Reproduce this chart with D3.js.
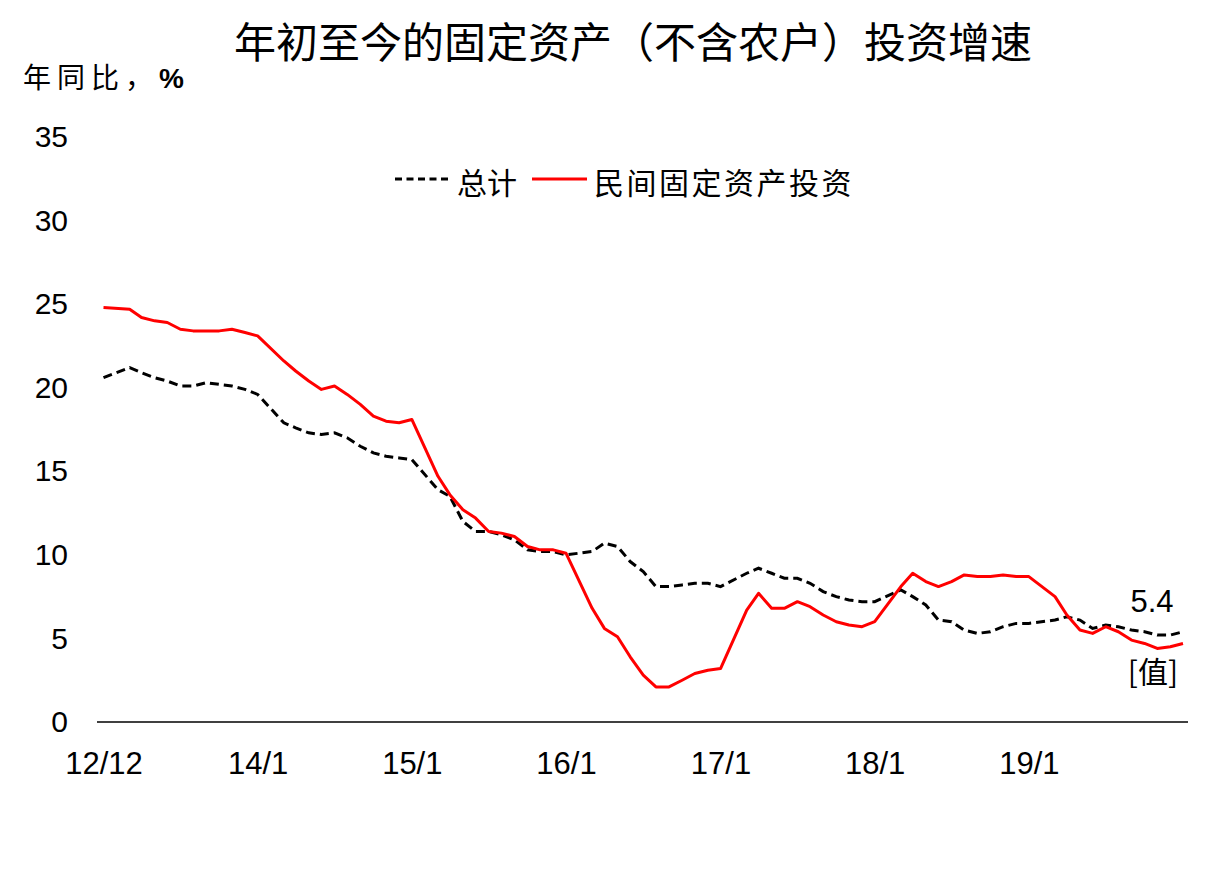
<!DOCTYPE html>
<html>
<head>
<meta charset="utf-8">
<script src="https://cdn.jsdelivr.net/npm/d3@7"></script>
<style>
  body { margin: 0; background: #fff; }
  text { fill: #000; }
</style>
</head>
<body>
<svg></svg>
<script>
// months shown (Jan is folded into Jan-Feb, so no January points)
const months = [
  "2012-12",
  "2013-02", "2013-03", "2013-04", "2013-05", "2013-06", "2013-07", "2013-08", "2013-09", "2013-10", "2013-11", "2013-12",
  "2014-02", "2014-03", "2014-04", "2014-05", "2014-06", "2014-07", "2014-08", "2014-09", "2014-10", "2014-11", "2014-12",
  "2015-02", "2015-03", "2015-04", "2015-05", "2015-06", "2015-07", "2015-08", "2015-09", "2015-10", "2015-11", "2015-12",
  "2016-02", "2016-03", "2016-04", "2016-05", "2016-06", "2016-07", "2016-08", "2016-09", "2016-10", "2016-11", "2016-12",
  "2017-02", "2017-03", "2017-04", "2017-05", "2017-06", "2017-07", "2017-08", "2017-09", "2017-10", "2017-11", "2017-12",
  "2018-02", "2018-03", "2018-04", "2018-05", "2018-06", "2018-07", "2018-08", "2018-09", "2018-10", "2018-11", "2018-12",
  "2019-02", "2019-03", "2019-04", "2019-05", "2019-06", "2019-07", "2019-08", "2019-09", "2019-10", "2019-11", "2019-12",
];

// 总计
const totalValues = [
  20.6,
  21.2, 20.9, 20.6, 20.4, 20.1, 20.1, 20.3, 20.2, 20.1, 19.9, 19.6,
  17.9, 17.6, 17.3, 17.2, 17.3, 17.0, 16.5, 16.1, 15.9, 15.8, 15.7,
  13.9, 13.5, 12.0, 11.4, 11.4, 11.2, 10.9, 10.3, 10.2, 10.2, 10.0,
  10.2, 10.7, 10.5, 9.6, 9.0, 8.1, 8.1, 8.2, 8.3, 8.3, 8.1,
  8.9, 9.2, 8.9, 8.6, 8.6, 8.3, 7.8, 7.5, 7.3, 7.2, 7.2,
  7.9, 7.5, 7.0, 6.1, 6.0, 5.5, 5.3, 5.4, 5.7, 5.9, 5.9,
  6.1, 6.3, 6.1, 5.6, 5.8, 5.7, 5.5, 5.4, 5.2, 5.2, 5.4,
];

// 民间固定资产投资
const privateValues = [
  24.8,
  24.7, 24.2, 24.0, 23.9, 23.5, 23.4, 23.4, 23.4, 23.5, 23.3, 23.1,
  21.6, 21.0, 20.4, 19.9, 20.1, 19.6, 19.0, 18.3, 18.0, 17.9, 18.1,
  14.7, 13.6, 12.7, 12.2, 11.4, 11.3, 11.1, 10.5, 10.3, 10.3, 10.1,
  6.8, 5.6, 5.1, 3.9, 2.8, 2.1, 2.1, 2.5, 2.9, 3.1, 3.2,
  6.7, 7.7, 6.8, 6.8, 7.2, 6.9, 6.4, 6.0, 5.8, 5.7, 6.0,
  8.1, 8.9, 8.4, 8.1, 8.4, 8.8, 8.7, 8.7, 8.8, 8.7, 8.7,
  7.5, 6.4, 5.5, 5.3, 5.7, 5.4, 4.9, 4.7, 4.4, 4.5, 4.7,
];

const tickMonths = ["2012-12", "2013-12", "2014-12", "2015-12", "2016-12", "2017-12", "2018-12"];
const tickLabels = ["12/12", "14/1", "15/1", "16/1", "17/1", "18/1", "19/1"];
const yTicks = [0, 5, 10, 15, 20, 25, 30, 35];

const title = "年初至今的固定资产（不含农户）投资增速";
const yTitle = "年同比，";
const seriesNames = ["总计", "民间固定资产投资"];

const width = 1229;
const height = 869;
const cjk = "'Noto Sans CJK SC', sans-serif";
const latin = "'Liberation Sans', Arial, sans-serif";
const svg = d3.select("svg").attr("width", width).attr("height", height);

const parseMonth = d3.timeParse("%Y-%m");
const dates = months.map(parseMonth);

const xScale = d3
  .scaleTime()
  .domain([dates[0], dates[dates.length - 1]])
  .range([103.5, 1183]);

const yScale = d3.scaleLinear().domain([0, 35]).range([722, 137]);

// title
svg
  .append("text")
  .attr("x", 633)
  .attr("y", 58)
  .attr("text-anchor", "middle")
  .style("font-family", cjk)
  .style("font-size", "42px")
  .text(title);

// y axis title
const yt = svg
  .append("text")
  .attr("x", 23)
  .attr("y", 88)
  .style("font-family", cjk)
  .style("font-size", "28px")
  .style("letter-spacing", "6px");
yt.append("tspan").text(yTitle);
yt.append("tspan")
  .style("font-family", latin)
  .style("font-weight", "bold")
  .style("letter-spacing", "0px")
  .text("%");

// y axis: labels only
const yAxis = d3.axisLeft(yScale).tickValues(yTicks).tickSize(0).tickPadding(0);
const yG = svg.append("g").attr("transform", "translate(68,0)").call(yAxis);
yG.select(".domain").remove();
yG.selectAll("text")
  .style("font-family", latin)
  .style("font-size", "30px")
  .attr("fill", "#000");

// x axis
const xAxis = d3
  .axisBottom(xScale)
  .tickValues(tickMonths.map(parseMonth))
  .tickFormat((d, i) => tickLabels[i])
  .tickSize(0)
  .tickPadding(30);
const xG = svg.append("g").attr("transform", "translate(0,722)").call(xAxis);
xG.select(".domain").remove();
xG.selectAll("text")
  .style("font-family", latin)
  .style("font-size", "31px")
  .attr("fill", "#000");

svg
  .append("line")
  .attr("x1", 97)
  .attr("x2", 1188)
  .attr("y1", 722)
  .attr("y2", 722)
  .attr("stroke", "#000")
  .attr("stroke-width", 1.3);

// lines
const line = d3
  .line()
  .x((d, i) => xScale(dates[i]))
  .y((d) => yScale(d));

svg
  .append("path")
  .datum(totalValues)
  .attr("d", line)
  .attr("fill", "none")
  .attr("stroke", "#000")
  .attr("stroke-width", 3)
  .attr("stroke-dasharray", "9,5");

svg
  .append("path")
  .datum(privateValues)
  .attr("d", line)
  .attr("fill", "none")
  .attr("stroke", "#ff0000")
  .attr("stroke-width", 3)
  .attr("stroke-linejoin", "round");

// end labels
const lastDate = dates[dates.length - 1];
svg
  .append("text")
  .attr("x", xScale(lastDate) - 31)
  .attr("y", yScale(totalValues[totalValues.length - 1]) - 20)
  .attr("text-anchor", "middle")
  .style("font-family", latin)
  .style("font-size", "31px")
  .text(totalValues[totalValues.length - 1].toFixed(1));

svg
  .append("text")
  .attr("x", xScale(lastDate) - 30)
  .attr("y", yScale(privateValues[privateValues.length - 1]) + 40)
  .attr("text-anchor", "middle")
  .style("font-family", cjk)
  .style("font-size", "30px")
  .text("[值]");

// legend
const legend = svg.append("g");
legend
  .append("line")
  .attr("x1", 395)
  .attr("x2", 450)
  .attr("y1", 179)
  .attr("y2", 179)
  .attr("stroke", "#000")
  .attr("stroke-width", 3)
  .attr("stroke-dasharray", "7,4.5");
legend
  .append("text")
  .attr("x", 457)
  .attr("y", 194)
  .style("font-family", cjk)
  .style("font-size", "30px")
  .text(seriesNames[0]);
legend
  .append("line")
  .attr("x1", 532)
  .attr("x2", 587)
  .attr("y1", 179)
  .attr("y2", 179)
  .attr("stroke", "#ff0000")
  .attr("stroke-width", 3);
legend
  .append("text")
  .attr("x", 594)
  .attr("y", 194)
  .style("font-family", cjk)
  .style("font-size", "30px")
  .style("letter-spacing", "2.5px")
  .text(seriesNames[1]);
</script>
</body>
</html>
